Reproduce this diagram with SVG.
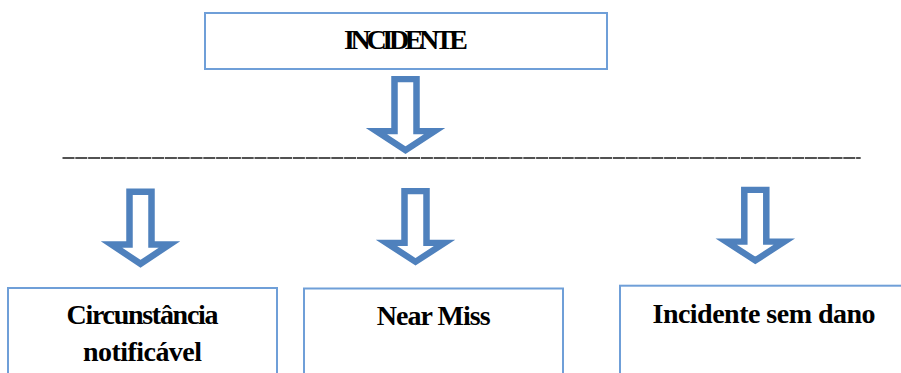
<svg xmlns="http://www.w3.org/2000/svg" width="901" height="373" viewBox="0 0 901 373">
<style>
.box{fill:#ffffff;stroke:#6f9fd8;stroke-width:2}
.arrow{fill:#ffffff;stroke:#4f81bd;stroke-width:6.5;stroke-linejoin:miter;stroke-miterlimit:10}
.rule{stroke:#1a1a1a;stroke-width:1.4;stroke-dasharray:12 0.8}
</style>
<defs>
<path id="arr" class="arrow" d="M-11,3.2 L11,3.2 L11,56 L29,56 L0,75.3 L-29,56 L-11,56 Z"/>
</defs>
<rect width="901" height="373" fill="#ffffff"/>
<g font-family="Liberation Serif, Times New Roman, serif" font-weight="bold" font-size="28" fill="#000000" text-anchor="middle">
<g id="node-incidente">
<rect class="box" x="205" y="13" width="402" height="56"/>
<text x="406" y="48.5" textLength="124" lengthAdjust="spacing">INCIDENTE</text>
</g>
<g id="node-circunstancia">
<rect class="box" x="8" y="288" width="269" height="100"/>
<text x="142.5" y="324.3" textLength="152" lengthAdjust="spacing">Circunstância</text>
<text x="142.5" y="361" textLength="119" lengthAdjust="spacing">notificável</text>
</g>
<g id="node-nearmiss">
<rect class="box" x="304" y="288.5" width="259" height="100"/>
<text x="433.7" y="325" textLength="114" lengthAdjust="spacing">Near Miss</text>
</g>
<g id="node-semdano">
<rect class="box" x="620" y="285.7" width="300" height="100"/>
<text x="764" y="323" textLength="223" lengthAdjust="spacing">Incidente sem dano</text>
</g>
</g>
<g id="connectors">
<use href="#arr" transform="translate(405.5,76) scale(1,0.985)"/>
<line class="rule" x1="62.5" y1="158" x2="860.7" y2="158"/>
<use href="#arr" transform="translate(140.5,188.5)"/>
<use href="#arr" transform="translate(415.5,188) scale(1,0.98)"/>
<use href="#arr" transform="translate(755.3,186.7) scale(1,0.98)"/>
</g>
</svg>
